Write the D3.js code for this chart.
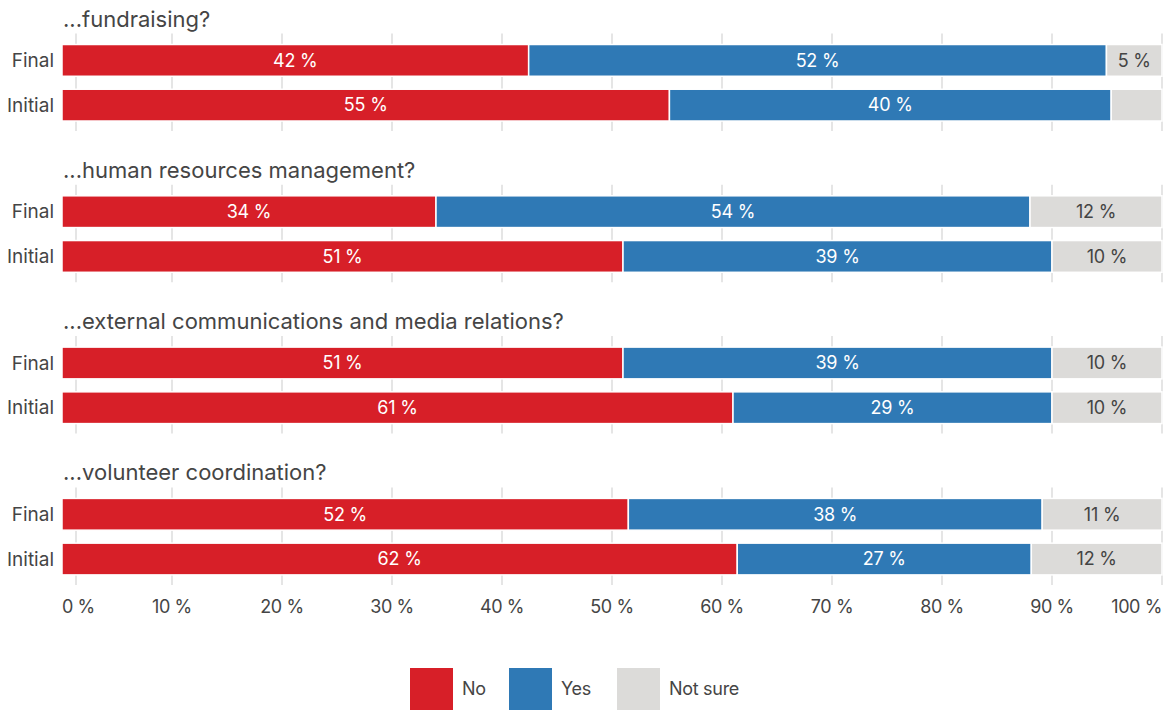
<!DOCTYPE html>
<html>
<head>
<meta charset="utf-8">
<script src="https://cdn.jsdelivr.net/npm/d3@7"></script>
<style>
  html, body { margin: 0; padding: 0; background: #fff; }
  svg { display: block; font-family: "Inter", "Liberation Sans", sans-serif; }
</style>
</head>
<body>
<svg id="chart" width="1165" height="710"></svg>
<script>
// Survey questions, one panel each
const questions = [
  "...fundraising?",
  "...human resources management?",
  "...external communications and media relations?",
  "...volunteer coordination?"
];
const rounds = ["Final", "Initial"];
const answers = ["No", "Yes", "Not sure"];

// Share of responses per question, [Final, Initial]
const noValues      = [[42, 55], [34, 51], [51, 61], [52, 62]];
const yesValues     = [[52, 40], [54, 39], [39, 29], [38, 27]];
const notSureValues = [[5, 4.6], [12, 10], [10, 10], [11, 12]];

const tickValues = [0, 10, 20, 30, 40, 50, 60, 70, 80, 90, 100];
const tickLabels = ["0 %", "10 %", "20 %", "30 %", "40 %", "50 %", "60 %", "70 %", "80 %", "90 %", "100 %"];

const colors = ["#d71f28", "#2f79b5", "#dcdbd9"];
const labelColors = ["#ffffff", "#ffffff", "#444444"];

// Flatten into rows for stacking
const rows = [];
questions.forEach((q, qi) => {
  rounds.forEach((r, ri) => {
    rows.push({
      question: q, round: r,
      "No": noValues[qi][ri],
      "Yes": yesValues[qi][ri],
      "Not sure": notSureValues[qi][ri]
    });
  });
});

const stack = d3.stack().keys(answers).offset(d3.stackOffsetExpand);
const series = stack(rows);

const svg = d3.select("#chart");
const left = 62, right = 1162;

const x = d3.scaleLinear().domain([0, 1]).range([left, right]);
const xPct = d3.scaleLinear().domain([0, 100]).range([left, right]);

const yGroup = d3.scaleBand().domain(questions).range([44.5, 44.5 + 151.3 * 4]).paddingInner(0).paddingOuter(0);
const yRound = d3.scaleBand().domain(rounds).range([0, 76.5]).paddingInner(0.29).paddingOuter(0);

const textColor = "#454545";

// Panels: title + tick marks
const panels = svg.append("g").selectAll("g.panel")
  .data(questions).join("g")
  .attr("class", "panel")
  .attr("transform", d => `translate(0,${yGroup(d)})`);

panels.append("text")
  .attr("x", left + 1)
  .attr("y", -18)
  .attr("fill", textColor)
  .style("font-size", "22px")
  .style("letter-spacing", "0px")
  .text(d => d);

panels.selectAll("line.grid")
  .data(tickValues).join("line")
  .attr("class", "grid")
  .attr("x1", d => d === 0 ? xPct(d) + 14 : xPct(d))
  .attr("x2", d => d === 0 ? xPct(d) + 14 : xPct(d))
  .attr("y1", -11)
  .attr("y2", yRound.range()[1] + 10)
  .attr("stroke", "#dddddd")
  .attr("stroke-width", 1.5);

panels.selectAll("text.round")
  .data(rounds).join("text")
  .attr("class", "round")
  .attr("x", 54)
  .attr("y", r => yRound(r) + yRound.bandwidth() / 2)
  .attr("dy", "0.35em")
  .attr("text-anchor", "end")
  .attr("fill", textColor)
  .style("font-size", "19px")
  .text(r => r);

// Bars
const rowY = d => yGroup(d.data.question) + yRound(d.data.round);

const layers = svg.append("g").selectAll("g.layer")
  .data(series).join("g")
  .attr("class", "layer")
  .attr("fill", (s, i) => colors[i]);

layers.selectAll("rect")
  .data(s => s).join("rect")
  .attr("x", d => x(d[0]))
  .attr("y", d => rowY(d))
  .attr("width", d => Math.max(0, x(d[1]) - x(d[0])))
  .attr("height", yRound.bandwidth())
  .attr("stroke", "#fff")
  .attr("stroke-width", 1.5);

// Value labels inside segments
layers.each(function (s, i) {
  d3.select(this).selectAll("text")
    .data(s.filter(d => d.data[s.key] >= 5)).join("text")
    .attr("x", d => (x(d[0]) + x(d[1])) / 2)
    .attr("y", d => rowY(d) + yRound.bandwidth() / 2)
    .attr("dy", "0.35em")
    .attr("text-anchor", "middle")
    .attr("fill", labelColors[i])
    .style("font-size", "18px")
    .style("letter-spacing", "-0.2px")
    .text(d => `${d.data[s.key]} %`);
});

// Bottom axis labels
const axisY = 607;
svg.append("g").selectAll("text")
  .data(tickValues).join("text")
  .attr("x", d => xPct(d))
  .attr("y", axisY)
  .attr("dy", "0.35em")
  .attr("text-anchor", (d, i) => i === 0 ? "start" : (i === tickValues.length - 1 ? "end" : "middle"))
  .attr("fill", textColor)
  .style("font-size", "18px")
  .style("letter-spacing", "-0.4px")
  .text((d, i) => tickLabels[i]);

// Legend
const legendX = [410, 509, 617];
const legend = svg.append("g").selectAll("g")
  .data(answers).join("g")
  .attr("transform", (d, i) => `translate(${legendX[i]},668)`);

legend.append("rect")
  .attr("width", 43).attr("height", 42)
  .attr("fill", (d, i) => colors[i]);

legend.append("text")
  .attr("x", 52).attr("y", 21)
  .attr("dy", "0.35em")
  .attr("fill", textColor)
  .style("font-size", "18px")
  .style("letter-spacing", "-0.3px")
  .text(d => d);
</script>
</body>
</html>
